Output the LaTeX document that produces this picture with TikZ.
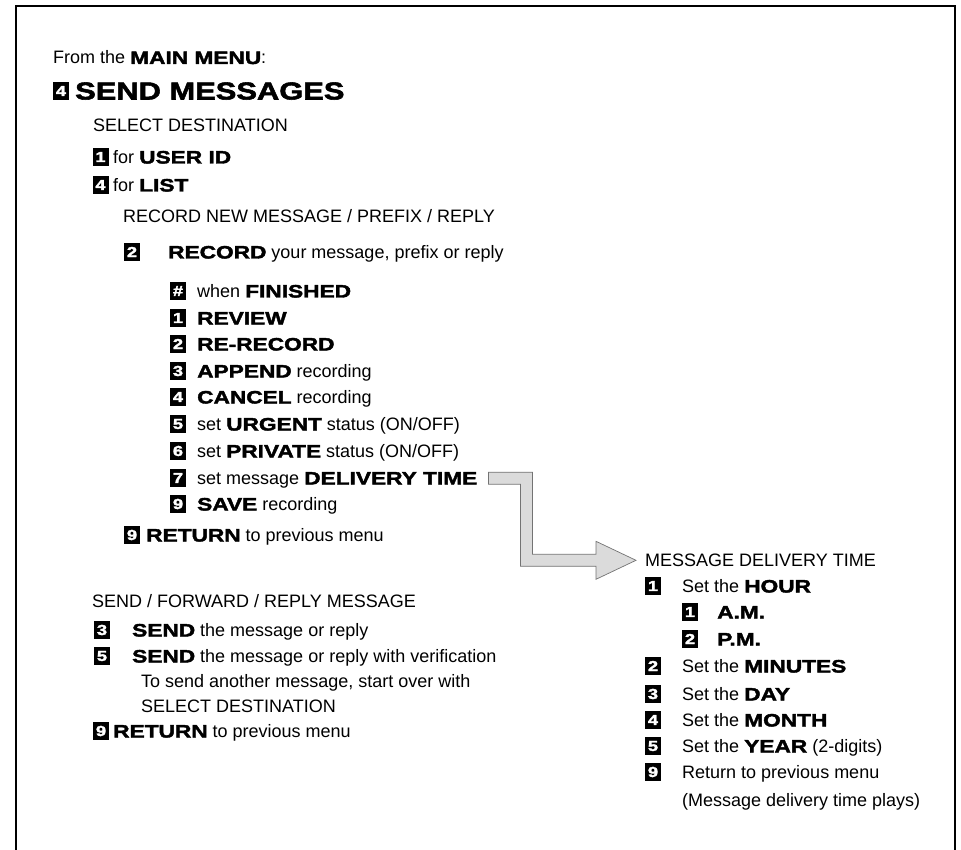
\documentclass[tikz,border=0pt]{standalone}
\usepackage{fontspec}
\setmainfont{Liberation Sans}
\newfontfamily\heavy{Liberation Sans Bold}[FakeBold=2.2,FakeStretch=1.26]
\usetikzlibrary{calc}
\tikzset{
  line/.style={anchor=base west,inner sep=0pt,font=\fontsize{18}{20}\selectfont},
  key/.style={fill=black,text=white,minimum width=16,minimum height=17.5,
              inner sep=0pt,font=\heavy\fontsize{14.5}{14.5}\selectfont},
  fatarrow/.style={fill=black!14,draw=black!55,line width=0.7pt},
  frame/.style={line width=2.6pt}
}
\newcommand{\hv}[1]{{\heavy #1}}

\begin{document}
\begin{tikzpicture}[x=1pt,y=-1pt]
  \useasboundingbox (0,0) rectangle (961,850);
  \draw[frame] (16,852) -- (16,6) -- (955,6) -- (955,852);

  \node[line] (from) at (53,64) {From the \hv{MAIN MENU}:};
  \node[key,minimum width=16.5,minimum height=18.5] (kmain) at (61,91) {4};
  \node[line,font=\heavy\fontsize{24.5}{26}\selectfont] (sendmsg) at (75,99.5) {SEND MESSAGES};

  \node[line] (dest) at (93,131.5) {SELECT DESTINATION};
  \node[key] (kuid) at (100.5,157) {1};
  \node[line] (uid) at (113,163.5) {for \hv{USER ID}};
  \node[key] (klist) at (100.5,185) {4};
  \node[line] (list) at (113,191.5) {for \hv{LIST}};

  \node[line] (recnew) at (123,222.5) {RECORD NEW MESSAGE / PREFIX / REPLY};
  \node[key] (krec) at (132,252) {2};
  \node[line] (rec) at (168,258.5) {\hv{RECORD} your message, prefix or reply};

  \node[key] (kfin) at (178,291) {\#};
  \node[line] (fin) at (197,297.5) {when \hv{FINISHED}};
  \node[key] (krev) at (178,318) {1};
  \node[line] (rev) at (197,324.5) {\hv{REVIEW}};
  \node[key] (krer) at (178,344) {2};
  \node[line] (rerec) at (197,350.5) {\hv{RE-RECORD}};
  \node[key] (kapp) at (178,371) {3};
  \node[line] (app) at (197,377.5) {\hv{APPEND} recording};
  \node[key] (kcan) at (178,397) {4};
  \node[line] (can) at (197,403.5) {\hv{CANCEL} recording};
  \node[key] (kurg) at (178,424) {5};
  \node[line] (urg) at (197,430.5) {set \hv{URGENT} status (ON/OFF)};
  \node[key] (kpriv) at (178,451) {6};
  \node[line] (priv) at (197,457.5) {set \hv{PRIVATE} status (ON/OFF)};
  \node[key] (kdel) at (178,478) {7};
  \node[line] (deltime) at (197,484.5) {set message \hv{DELIVERY TIME}};
  \node[key] (ksave) at (178,504) {9};
  \node[line] (save) at (197,510.5) {\hv{SAVE} recording};
  \node[key] (kret) at (132,535) {9};
  \node[line] (ret) at (146,541.5) {\hv{RETURN} to previous menu};

  \node[line] (fwd) at (92,607.5) {SEND / FORWARD / REPLY MESSAGE};
  \node[key] (ksend) at (102,630) {3};
  \node[line] (send) at (132,636.5) {\hv{SEND} the message or reply};
  \node[key] (kver) at (102,656) {5};
  \node[line] (ver) at (132,662.5) {\hv{SEND} the message or reply with verification};
  \node[line] (again) at (141,687.5) {To send another message, start over with};
  \node[line] (again2) at (141,712.5) {SELECT DESTINATION};
  \node[key] (kback) at (101,731) {9};
  \node[line] (back) at (113,737.5) {\hv{RETURN} to previous menu};

  % delivery time menu
  \node[line] (mdt) at (645,566.5) {MESSAGE DELIVERY TIME};
  \node[key] (khour) at (653,586) {1};
  \node[line] (hour) at (682,592.5) {Set the \hv{HOUR}};
  \node[key] (kam) at (690,612) {1};
  \node[line] (am) at (717,618.5) {\hv{A.M.}};
  \node[key] (kpm) at (690,639) {2};
  \node[line] (pm) at (717,645.5) {\hv{P.M.}};
  \node[key] (kmin) at (653,666) {2};
  \node[line] (min) at (682,672.5) {Set the \hv{MINUTES}};
  \node[key] (kday) at (653,694) {3};
  \node[line] (day) at (682,700.5) {Set the \hv{DAY}};
  \node[key] (kmon) at (653,720) {4};
  \node[line] (mon) at (682,726.5) {Set the \hv{MONTH}};
  \node[key] (kyear) at (653,746) {5};
  \node[line] (year) at (682,752.5) {Set the \hv{YEAR} (2-digits)};
  \node[key] (kprev) at (653,772) {9};
  \node[line] (prev) at (682,778.5) {Return to previous menu};
  \node[line] (plays) at (682,806.5) {(Message delivery time plays)};

  % fat arrow to the delivery time menu
  \coordinate (aS) at ($(deltime.east)+(11,-2)$);
  \coordinate (aB) at ($(aS)+(38,0)$);
  \coordinate (aT) at ($(mdt.west)+(-9,0)$);
  \coordinate (aC) at (aB |- aT);
  \coordinate (aH) at ($(aT)+(-40,0)$);
  \filldraw[fatarrow] ($(aS)+(0,-6)$) -- ($(aB)+(6,-6)$) -- ($(aC)+(6,-6)$)
    -- ($(aH)+(0,-6)$) -- ($(aH)+(0,-19)$) -- (aT) -- ($(aH)+(0,19)$)
    -- ($(aH)+(0,6)$) -- ($(aC)+(-6,6)$) -- ($(aB)+(-6,6)$) -- ($(aS)+(0,6)$) -- cycle;
\end{tikzpicture}
\end{document}
